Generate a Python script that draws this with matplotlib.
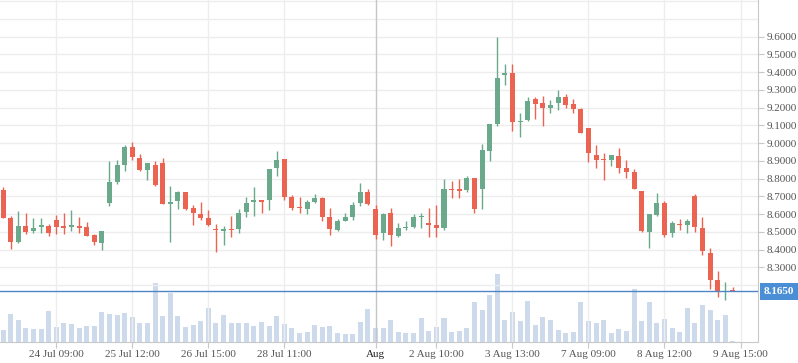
import matplotlib
matplotlib.use("Agg")
import matplotlib.pyplot as plt
import numpy as np

# OHLC per bar
opens = [8.736, 8.579, 8.445, 8.533, 8.505, 8.530, 8.533, 8.567, 8.533, 8.530,
         8.533, 8.528, 8.483, 8.439, 8.661, 8.779, 8.875, 8.979, 8.918, 8.846,
         8.878, 8.890, 8.655, 8.672, 8.724, 8.636, 8.602, 8.579, 8.518, 8.506,
         8.518, 8.516, 8.611, 8.671, 8.677, 8.677, 8.858, 8.913, 8.699, 8.637,
         8.626, 8.666, 8.688, 8.581, 8.510, 8.561, 8.581, 8.660, 8.727, 8.626,
         8.493, 8.604, 8.476, 8.521, 8.527, 8.583, 8.548, 8.536, 8.521, 8.744,
         8.738, 8.735, 8.806, 8.739, 8.958, 9.108, 9.382, 9.397, 9.117, 9.132,
         9.250, 9.228, 9.200, 9.228, 9.262, 9.222, 9.194, 9.083, 8.931, 8.909,
         8.903, 8.925, 8.858, 8.836, 8.729, 8.498, 8.594, 8.661, 8.493, 8.543,
         8.538, 8.701, 8.521, 8.381, 8.229, 8.159, 8.168]
highs = [8.753, 8.590, 8.618, 8.607, 8.579, 8.579, 8.545, 8.595, 8.607, 8.624,
         8.584, 8.556, 8.488, 8.505, 8.901, 8.906, 8.991, 9.007, 8.940, 8.890,
         8.901, 8.918, 8.760, 8.732, 8.727, 8.649, 8.671, 8.624, 8.546, 8.531,
         8.587, 8.626, 8.699, 8.750, 8.677, 8.857, 8.958, 8.913, 8.710, 8.699,
         8.682, 8.716, 8.699, 8.637, 8.570, 8.609, 8.671, 8.778, 8.744, 8.649,
         8.609, 8.637, 8.548, 8.559, 8.598, 8.609, 8.632, 8.649, 8.800, 8.789,
         8.800, 8.817, 8.806, 8.997, 9.108, 9.600, 9.448, 9.448, 9.171, 9.262,
         9.262, 9.267, 9.245, 9.301, 9.279, 9.250, 9.200, 9.083, 8.987, 8.942,
         8.931, 8.970, 8.903, 8.852, 8.729, 8.600, 8.718, 8.673, 8.560, 8.572,
         8.572, 8.712, 8.583, 8.409, 8.279, 8.218, 8.190]
lows = [8.580, 8.406, 8.439, 8.490, 8.496, 8.496, 8.479, 8.490, 8.490, 8.504,
        8.496, 8.479, 8.428, 8.400, 8.648, 8.768, 8.841, 8.903, 8.841, 8.790,
        8.758, 8.655, 8.440, 8.627, 8.624, 8.540, 8.568, 8.533, 8.387, 8.426,
        8.471, 8.493, 8.581, 8.587, 8.609, 8.621, 8.817, 8.681, 8.621, 8.606,
        8.598, 8.660, 8.559, 8.481, 8.504, 8.561, 8.566, 8.643, 8.651, 8.460,
        8.454, 8.420, 8.471, 8.510, 8.521, 8.521, 8.471, 8.471, 8.510, 8.690,
        8.690, 8.727, 8.609, 8.626, 8.901, 9.098, 9.329, 9.070, 9.036, 9.126,
        9.138, 9.098, 9.171, 9.188, 9.200, 9.171, 9.059, 8.894, 8.858, 8.791,
        8.869, 8.830, 8.802, 8.740, 8.498, 8.409, 8.588, 8.470, 8.470, 8.510,
        8.493, 8.501, 8.371, 8.175, 8.134, 8.113, 8.165]
closes = [8.580, 8.445, 8.533, 8.501, 8.522, 8.535, 8.496, 8.530, 8.522, 8.535,
          8.522, 8.479, 8.445, 8.505, 8.783, 8.878, 8.979, 8.923, 8.846, 8.890,
          8.764, 8.655, 8.670, 8.727, 8.630, 8.606, 8.576, 8.538, 8.510, 8.518,
          8.512, 8.604, 8.660, 8.677, 8.671, 8.857, 8.907, 8.699, 8.632, 8.634,
          8.671, 8.688, 8.581, 8.516, 8.559, 8.581, 8.654, 8.727, 8.656, 8.480,
          8.598, 8.480, 8.519, 8.527, 8.581, 8.592, 8.538, 8.521, 8.744, 8.735,
          8.733, 8.806, 8.626, 8.963, 9.108, 9.369, 9.397, 9.117, 9.126, 9.239,
          9.222, 9.200, 9.217, 9.262, 9.217, 9.194, 9.059, 8.944, 8.903, 8.903,
          8.931, 8.858, 8.836, 8.740, 8.504, 8.600, 8.661, 8.482, 8.549, 8.538,
          8.560, 8.527, 8.392, 8.229, 8.160, 8.165, 8.165]
volumes = [12.3, 28.3, 22.3, 14.3, 13.3, 13.3, 31.3, 15.3, 19.3, 18.3,
           14.3, 16.3, 16.3, 30.3, 28.3, 27.3, 29.3, 25.3, 19.3, 19.3,
           59.3, 26.3, 49.3, 26.3, 15.3, 17, 21, 34, 19, 27,
           19, 19, 19, 16, 20, 16, 26, 18, 14, 9,
           10, 17, 15, 16, 9, 8, 8, 20, 33, 14,
           14, 22, 10, 9, 9, 24, 11, 15, 24, 10,
           11, 14, 40, 32, 47, 68, 22, 30, 21, 41,
           17, 25, 22, 12, 9, 10, 40, 21, 19, 22,
           9, 13, 11, 53, 21, 40, 19, 23, 14, 10,
           34, 19, 37, 32, 22, 27, 1.3]

tick_pos = [7, 17, 27, 37, 49, 57, 67, 77, 87, 97]
tick_labels = ["24 Jul 09:00", "25 Jul 12:00", "26 Jul 15:00", "28 Jul 11:00", "Aug",
               "2 Aug 10:00", "3 Aug 13:00", "7 Aug 09:00", "8 Aug 12:00", "9 Aug 15:00"]
price_ticks = [8.3, 8.4, 8.5, 8.6, 8.7, 8.8, 8.9, 9.0, 9.1, 9.2, 9.3, 9.4, 9.5, 9.6]
last_price = 8.165

up_col = "#6aa98c"
down_col = "#eb6452"
vol_col = "#cddaec"
font = "Liberation Serif"

o = np.array(opens); h = np.array(highs); l = np.array(lows); c = np.array(closes)
x = np.arange(len(o))
cols = [up_col if cc >= oo else down_col for oo, cc in zip(o, c)]

fig = plt.figure(figsize=(7.98, 3.63), dpi=100)
W, H = 798, 363
rect = [0, 21 / H, 758 / W, 342 / H]
axv = fig.add_axes(rect)
ax = fig.add_axes(rect)
ax.patch.set_visible(False)

# volume
axv.bar(x, volumes, width=0.66, color=vol_col, zorder=2)
axv.set_ylim(0, 342)
axv.set_xlim(-0.4, 99.3)
axv.axis("off")

# grid
for p in np.arange(8.2, 9.85, 0.1):
    ax.axhline(p, color="#ededed", lw=1, zorder=0)
for t, lab in zip(tick_pos, tick_labels):
    if lab == "Aug":
        ax.axvline(t, color="#c6c6c6", lw=1, zorder=1)
    else:
        ax.axvline(t, color="#ededed", lw=1, zorder=0)

# candles
ax.vlines(x, l, h, colors=cols, lw=1, zorder=3)
bot = np.minimum(o, c)
hgt = np.maximum(np.abs(c - o), 0.006)
ax.bar(x, hgt, bottom=bot, width=0.66, color=cols, zorder=4)

ax.axhline(last_price, color="#4f86c6", lw=1, zorder=5)

ax.set_xlim(-0.4, 99.3)
ax.set_ylim(7.879, 9.807)
ax.yaxis.tick_right()
ax.set_yticks(price_ticks)
ax.set_yticklabels(["%.4f" % p for p in price_ticks])
ax.set_xticks(tick_pos)
ax.set_xticklabels(tick_labels)
for sp in ["top", "left"]:
    ax.spines[sp].set_visible(False)
for sp in ["right", "bottom"]:
    ax.spines[sp].set_color("#c8c8c8")
ax.tick_params(axis="both", colors="#c8c8c8", length=4, labelcolor="#555555",
               labelsize=8, pad=2)
for lab in ax.get_xticklabels() + ax.get_yticklabels():
    lab.set_fontfamily(font)
for lab in ax.get_xticklabels():
    if lab.get_text() == "Aug":
        lab.set_color("#222222")

ax.annotate("%.4f" % last_price, xy=(1.0, last_price), xycoords=ax.get_yaxis_transform(),
            xytext=(4, 0), textcoords="offset points", ha="left", va="center",
            fontsize=8, fontweight="bold", color="white", family=font,
            bbox=dict(boxstyle="square,pad=0.35", fc="#4a8fd6", ec="none"),
            annotation_clip=False, zorder=6)

fig.savefig("out.png", dpi=100)
